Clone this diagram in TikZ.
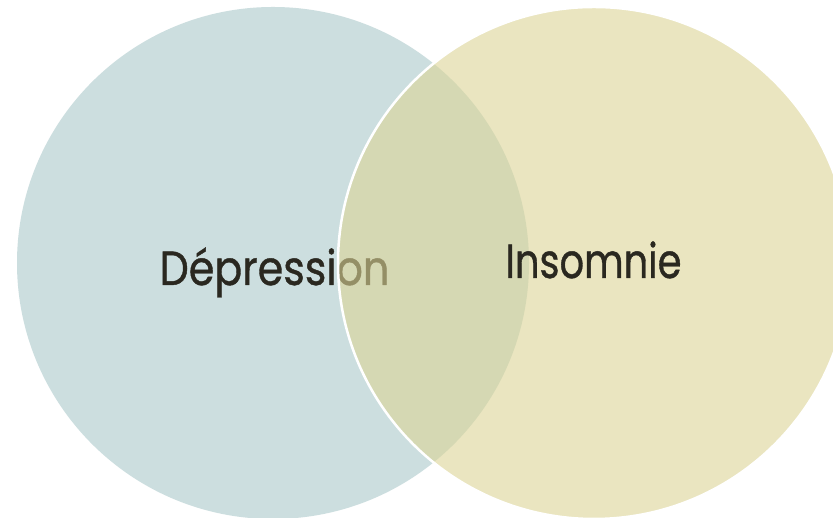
\documentclass[tikz,border=0pt]{standalone}
\usepackage{fontspec}
\setmainfont{Poppins}[FakeBold=0.9]
\definecolor{leftc}{RGB}{204,222,223}
\definecolor{rightc}{RGB}{220,212,150}
\definecolor{txt}{RGB}{42,40,32}
\tikzset{
  lbl/.style={anchor=base, inner sep=0pt, text=txt, font=\fontsize{48}{52}\selectfont},
}
\begin{document}
\begin{tikzpicture}[x=1pt,y=1pt]
\clip (0,0) rectangle (833,518);
\fill[white] (0,0) rectangle (833,518);
\fill[leftc] (273,255) circle[radius=256];
\node[lbl] (dep) at (274.5,233) {\scalebox{0.86}[1]{Dépression}};
\path[fill=rightc, fill opacity=0.6, draw=white, line width=2.5pt] (594,255) circle[radius=256];
\node[lbl] (ins) at (593.5,240) {\scalebox{0.80}[1]{Insomnie}};
\end{tikzpicture}
\end{document}
